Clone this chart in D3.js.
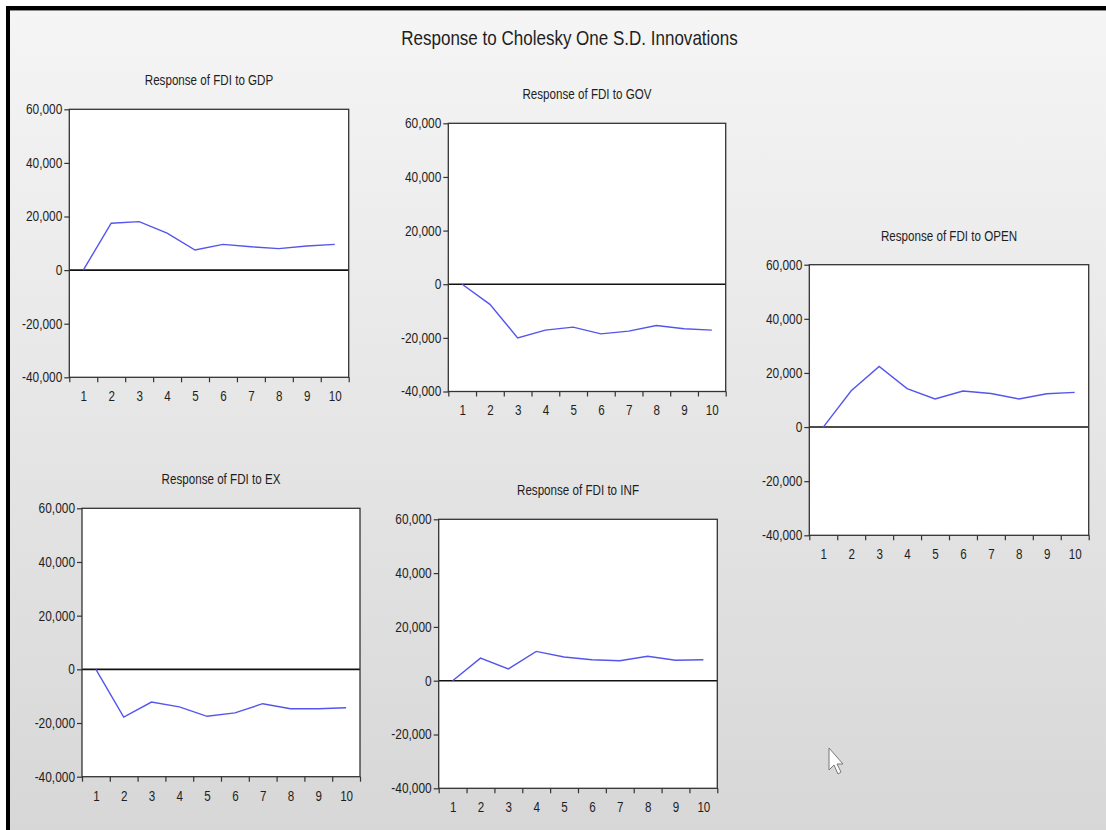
<!DOCTYPE html>
<html>
<head>
<meta charset="utf-8">
<script src="https://cdn.jsdelivr.net/npm/d3@7"></script>
<style>
  body { margin: 0; background: #fff; }
  svg { display: block; }
  text { font-family: "Liberation Sans Narrow", "Arial Narrow", "Liberation Sans", sans-serif; fill: #1e1e1e; }
  .axis path { display: none; }
  .axis line { stroke: #333; stroke-width: 1.2; }
</style>
</head>
<body>
<svg id="chart" width="1106" height="830"></svg>
<script>
// impulse responses, periods 1..10
const periods = d3.range(1, 11)
const yTicks = [-40000, -20000, 0, 20000, 40000, 60000]
const mainTitle = 'Response to Cholesky One S.D. Innovations'

const gdp  = [0, 17500, 18100, 13800, 7500, 9600, 8700, 8000, 9000, 9600]
const gov  = [0, -7500, -20000, -17100, -16000, -18500, -17500, -15400, -16600, -17100]
const open = [0, 13400, 22400, 14200, 10400, 13300, 12400, 10400, 12300, 12800]
const ex   = [0, -17800, -12200, -14000, -17500, -16200, -12800, -14700, -14700, -14300]
const inf  = [0, 8400, 4400, 10900, 8800, 7800, 7400, 9100, 7600, 7800]

const panels = [
  { title: 'Response of FDI to GDP',  values: gdp,  box: [69.3, 109.3, 348.7, 377.3] },
  { title: 'Response of FDI to GOV',  values: gov,  box: [448.3, 123.3, 725.7, 391.5] },
  { title: 'Response of FDI to OPEN', values: open, box: [809.3, 264.7, 1088.7, 535.3] },
  { title: 'Response of FDI to EX',   values: ex,   box: [82, 508.3, 360, 776.7] },
  { title: 'Response of FDI to INF',  values: inf,  box: [438.7, 519.3, 717.3, 788.3] }
]

const svg = d3.select('#chart')

// is a narrow face really there? compare widths against the regular one
const probe = svg.append('text').style('font-size', '20px').text(mainTitle)
const wNarrow = probe.node().getComputedTextLength()
probe.style('font-family', '"Liberation Sans"')
const wRegular = probe.node().getComputedTextLength()
probe.remove()
const squeeze = wNarrow < wRegular * 0.9 ? 1 : 0.83

function condense(sel, k) {
  sel.each(function() {
    const t = d3.select(this)
    const x = +t.attr('x') || 0
    const y = +t.attr('y') || 0
    t.attr('x', 0).attr('y', 0)
      .attr('transform', `translate(${x},${y}) scale(${k},1)`)
  })
}

// window background
const defs = svg.append('defs')
const grad = defs.append('linearGradient')
  .attr('id', 'bg')
  .attr('x1', 0).attr('y1', 0).attr('x2', 0).attr('y2', 1)
grad.append('stop').attr('offset', '0%').attr('stop-color', '#f5f5f5')
grad.append('stop').attr('offset', '100%').attr('stop-color', '#d7d7d7')

svg.append('rect')
  .attr('x', 8).attr('y', 8)
  .attr('width', 1098).attr('height', 822)
  .attr('fill', 'url(#bg)')

// black frame of the screenshot (top and left only)
svg.append('rect').attr('x', 6).attr('y', 6).attr('width', 1100).attr('height', 4).attr('fill', '#000')
svg.append('rect').attr('x', 6).attr('y', 6).attr('width', 4).attr('height', 824).attr('fill', '#000')
svg.append('line')
  .attr('x1', 10).attr('x2', 1106).attr('y1', 10.5).attr('y2', 10.5)
  .attr('stroke', '#8a8a8a').attr('stroke-width', 1)

svg.append('text')
  .attr('x', 569.5)
  .attr('y', 45)
  .attr('text-anchor', 'middle')
  .style('font-size', '20.5px')
  .text(mainTitle)
  .call(condense, squeeze)

const fmt = d3.formatLocale({
  decimal: '.', thousands: ',', grouping: [3], currency: ['', ''], minus: '-'
}).format(',')

panels.forEach(function(p) {
  const [x0, y0, x1, y1] = p.box

  const x = d3.scaleLinear().domain([0.5, 10.5]).range([x0, x1])
  const y = d3.scaleLinear().domain([-40000, 60000]).range([y1, y0])

  const g = svg.append('g')

  g.append('rect')
    .attr('x', x0).attr('y', y0)
    .attr('width', x1 - x0).attr('height', y1 - y0)
    .attr('fill', '#fff')

  g.append('text')
    .attr('x', (x0 + x1) / 2)
    .attr('y', y0 - 24)
    .attr('text-anchor', 'middle')
    .style('font-size', '14px')
    .text(p.title)
    .call(condense, squeeze)

  // y axis
  g.append('g')
    .attr('class', 'axis')
    .attr('transform', `translate(${x0},0)`)
    .call(d3.axisLeft(y).tickValues(yTicks).tickFormat(fmt).tickSize(5).tickPadding(2))
    .selectAll('text')
    .style('font-size', '14px')
    .call(condense, squeeze + 0.02)

  // x axis: marks between periods, labels at the periods
  g.append('g')
    .attr('class', 'axis')
    .attr('transform', `translate(0,${y1})`)
    .call(d3.axisBottom(x).tickValues(d3.range(0.5, 11, 1)).tickFormat('').tickSize(5))

  g.append('g')
    .attr('class', 'axis')
    .attr('transform', `translate(0,${y1})`)
    .call(d3.axisBottom(x).tickValues(periods).tickFormat(d3.format('d')).tickSize(0).tickPadding(14))
    .selectAll('text')
    .style('font-size', '14px')
    .call(condense, squeeze)

  g.selectAll('.axis text').attr('fill', '#1e1e1e')

  // zero line
  g.append('line')
    .attr('x1', x0).attr('x2', x1)
    .attr('y1', y(0)).attr('y2', y(0))
    .attr('stroke', '#111')
    .attr('stroke-width', 1.6)

  const line = d3.line()
    .x((d, i) => x(periods[i]))
    .y(d => y(d))

  g.append('path')
    .datum(p.values)
    .attr('d', line)
    .attr('fill', 'none')
    .attr('stroke', '#5555ee')
    .attr('stroke-width', 1.4)

  g.append('rect')
    .attr('x', x0).attr('y', y0)
    .attr('width', x1 - x0).attr('height', y1 - y0)
    .attr('fill', 'none')
    .attr('stroke', '#333')
    .attr('stroke-width', 1.3)
})

// mouse pointer left in the screenshot
svg.append('path')
  .attr('d', 'M829,748 L829,770 L834,765 L838,774 L841,772 L837,764 L843,764 Z')
  .attr('fill', '#fff')
  .attr('stroke', '#777')
  .attr('stroke-width', 1)
</script>
</body>
</html>
